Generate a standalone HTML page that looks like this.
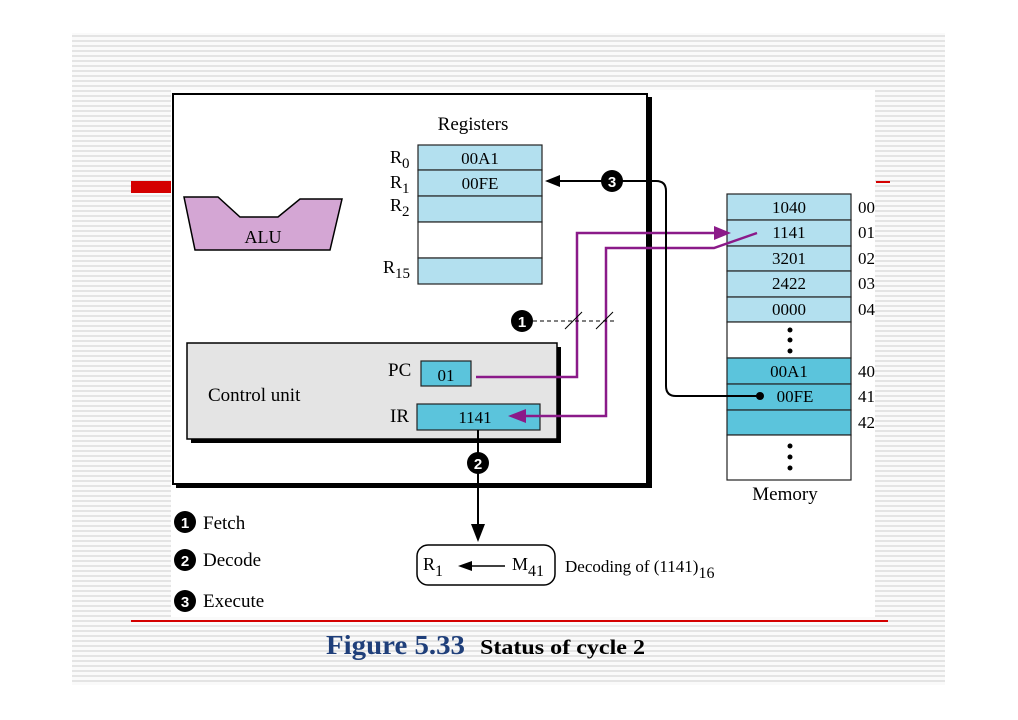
<!DOCTYPE html>
<html><head><meta charset="utf-8"><style>
html,body{margin:0;padding:0;background:#fff;}
svg{display:block;font-family:"Liberation Serif",serif;}
</style></head><body>
<svg width="1018" height="720" viewBox="0 0 1018 720" xmlns="http://www.w3.org/2000/svg">
<defs>
<pattern id="st" width="5" height="5" patternUnits="userSpaceOnUse">
<rect width="5" height="5" fill="#fafafa"/><rect y="0" width="5" height="2" fill="#e4e4e4"/>
</pattern>
</defs>
<rect x="72" y="33" width="873" height="652" fill="url(#st)"/>
<rect x="171" y="90" width="704" height="527" fill="#fff"/>
<rect x="131" y="181" width="40" height="12" fill="#d40000"/>
<rect x="876" y="181" width="14" height="2" fill="#d40000"/>
<rect x="131" y="620" width="757" height="2" fill="#d40000"/>

<rect x="176" y="97" width="476" height="391" fill="#000"/>
<rect x="173" y="94" width="474" height="390" fill="#fff" stroke="#000" stroke-width="2"/>

<polygon points="184,197 218,197 240,217 278,217 300,199 342,199 330,250 195,250" fill="#d4a6d4" stroke="#000" stroke-width="1.5"/>
<text x="263" y="243" font-size="18" text-anchor="middle">ALU</text>

<text x="473" y="130" font-size="19" text-anchor="middle">Registers</text>
<g stroke="#222" stroke-width="1.2">
<rect x="418" y="145" width="124" height="25" fill="#b3e0ef"/>
<rect x="418" y="170" width="124" height="26" fill="#b3e0ef"/>
<rect x="418" y="196" width="124" height="26" fill="#b3e0ef"/>
<rect x="418" y="222" width="124" height="36" fill="#fff"/>
<rect x="418" y="258" width="124" height="26" fill="#b3e0ef"/>
</g>
<g font-size="17" text-anchor="middle">
<text x="480" y="164">00A1</text><text x="480" y="189">00FE</text>
</g>
<g font-size="18">
<text x="390" y="163">R<tspan font-size="15" dy="5">0</tspan></text>
<text x="390" y="188">R<tspan font-size="15" dy="5">1</tspan></text>
<text x="390" y="211">R<tspan font-size="15" dy="5">2</tspan></text>
<text x="383" y="273">R<tspan font-size="15" dy="5">15</tspan></text>
</g>

<rect x="191" y="347" width="370" height="96" fill="#000"/>
<rect x="187" y="343" width="370" height="96" fill="#e4e4e4" stroke="#000" stroke-width="1.5"/>
<text x="208" y="401" font-size="19">Control unit</text>
<text x="388" y="376" font-size="19">PC</text>
<text x="390" y="422" font-size="19">IR</text>
<rect x="421" y="361" width="50" height="25" fill="#5bc4dc" stroke="#222" stroke-width="1.2"/>
<text x="446" y="381" font-size="17" text-anchor="middle">01</text>
<rect x="417" y="404" width="123" height="26" fill="#5bc4dc" stroke="#222" stroke-width="1.2"/>
<text x="475" y="423" font-size="17" text-anchor="middle">1141</text>

<g stroke="#222" stroke-width="1.2">
<rect x="727" y="194" width="124" height="26" fill="#b3e0ef"/>
<rect x="727" y="220" width="124" height="26" fill="#b3e0ef"/>
<rect x="727" y="246" width="124" height="25" fill="#b3e0ef"/>
<rect x="727" y="271" width="124" height="26" fill="#b3e0ef"/>
<rect x="727" y="297" width="124" height="25" fill="#b3e0ef"/>
<rect x="727" y="322" width="124" height="36" fill="#fff"/>
<rect x="727" y="358" width="124" height="26" fill="#5bc4dc"/>
<rect x="727" y="384" width="124" height="26" fill="#5bc4dc"/>
<rect x="727" y="410" width="124" height="25" fill="#5bc4dc"/>
<rect x="727" y="435" width="124" height="45" fill="#fff"/>
</g>
<g font-size="17" text-anchor="middle">
<text x="789" y="213">1040</text><text x="789" y="238">1141</text><text x="789" y="264">3201</text>
<text x="789" y="289">2422</text><text x="789" y="315">0000</text><text x="789" y="377">00A1</text>
<text x="795" y="402">00FE</text>
</g>
<g fill="#000">
<circle cx="790" cy="330" r="2.5"/><circle cx="790" cy="340" r="2.5"/><circle cx="790" cy="351" r="2.5"/>
<circle cx="790" cy="446" r="2.5"/><circle cx="790" cy="457" r="2.5"/><circle cx="790" cy="468" r="2.5"/>
</g>
<g font-size="17">
<text x="858" y="213">00</text><text x="858" y="238">01</text><text x="858" y="264">02</text>
<text x="858" y="289">03</text><text x="858" y="315">04</text><text x="858" y="377">40</text>
<text x="858" y="402">41</text><text x="858" y="428">42</text>
</g>
<text x="785" y="500" font-size="19" text-anchor="middle">Memory</text>

<g stroke="#8b1a89" stroke-width="2.5" fill="none">
<polyline points="476,377 577,377 577,233 718,233"/>
<polyline points="757,233 714,248 606,248 606,416 522,416"/>
</g>
<polygon points="731,233 714,226 714,240" fill="#8b1a89"/>
<polygon points="508,416 526,409 526,423" fill="#8b1a89"/>

<path d="M760,396 L676,396 Q666,396 666,386 L666,191 Q666,181 656,181 L556,181" stroke="#000" stroke-width="2" fill="none"/>
<polygon points="545,181 560,175 560,187" fill="#000"/>
<circle cx="760" cy="396" r="4" fill="#000"/>
<circle cx="612" cy="181" r="11" fill="#000"/>
<text x="612" y="187" font-size="15" font-weight="bold" fill="#fff" text-anchor="middle" font-family="Liberation Sans,sans-serif">3</text>

<line x1="533" y1="321" x2="614" y2="321" stroke="#000" stroke-width="1" stroke-dasharray="4,3"/>
<line x1="565" y1="329" x2="582" y2="312" stroke="#000" stroke-width="1"/>
<line x1="596" y1="329" x2="613" y2="312" stroke="#000" stroke-width="1"/>
<circle cx="522" cy="321" r="11" fill="#000"/>
<text x="522" y="327" font-size="15" font-weight="bold" fill="#fff" text-anchor="middle" font-family="Liberation Sans,sans-serif">1</text>

<line x1="478" y1="430" x2="478" y2="528" stroke="#000" stroke-width="2"/>
<polygon points="478,542 471,524 485,524" fill="#000"/>
<circle cx="478" cy="463" r="11" fill="#000"/>
<text x="478" y="469" font-size="15" font-weight="bold" fill="#fff" text-anchor="middle" font-family="Liberation Sans,sans-serif">2</text>
<rect x="417" y="545" width="138" height="40" rx="11" fill="#fff" stroke="#000" stroke-width="1.5"/>
<text x="423" y="570" font-size="18">R<tspan font-size="16" dy="6">1</tspan></text>
<line x1="470" y1="566" x2="505" y2="566" stroke="#000" stroke-width="1.5"/>
<polygon points="458,566 472,561 472,571" fill="#000"/>
<text x="512" y="570" font-size="18">M<tspan font-size="16" dy="6">41</tspan></text>
<text x="565" y="572" font-size="17">Decoding of (1141)<tspan font-size="16" dy="6">16</tspan></text>

<g font-family="Liberation Sans,sans-serif" font-size="15" font-weight="bold" fill="#fff" text-anchor="middle">
<circle cx="185" cy="522" r="11" fill="#000"/><text x="185" y="528">1</text>
<circle cx="185" cy="560" r="11" fill="#000"/><text x="185" y="566">2</text>
<circle cx="185" cy="601" r="11" fill="#000"/><text x="185" y="607">3</text>
</g>
<g font-size="19">
<text x="203" y="529">Fetch</text><text x="203" y="566">Decode</text><text x="203" y="607">Execute</text>
</g>

<text x="326" y="654" font-size="27" font-weight="bold" fill="#1f3f7a" textLength="139" lengthAdjust="spacingAndGlyphs">Figure 5.33</text>
<text x="480" y="654" font-size="21" font-weight="bold" textLength="165" lengthAdjust="spacingAndGlyphs">Status of cycle 2</text>
</svg>
</body></html>
